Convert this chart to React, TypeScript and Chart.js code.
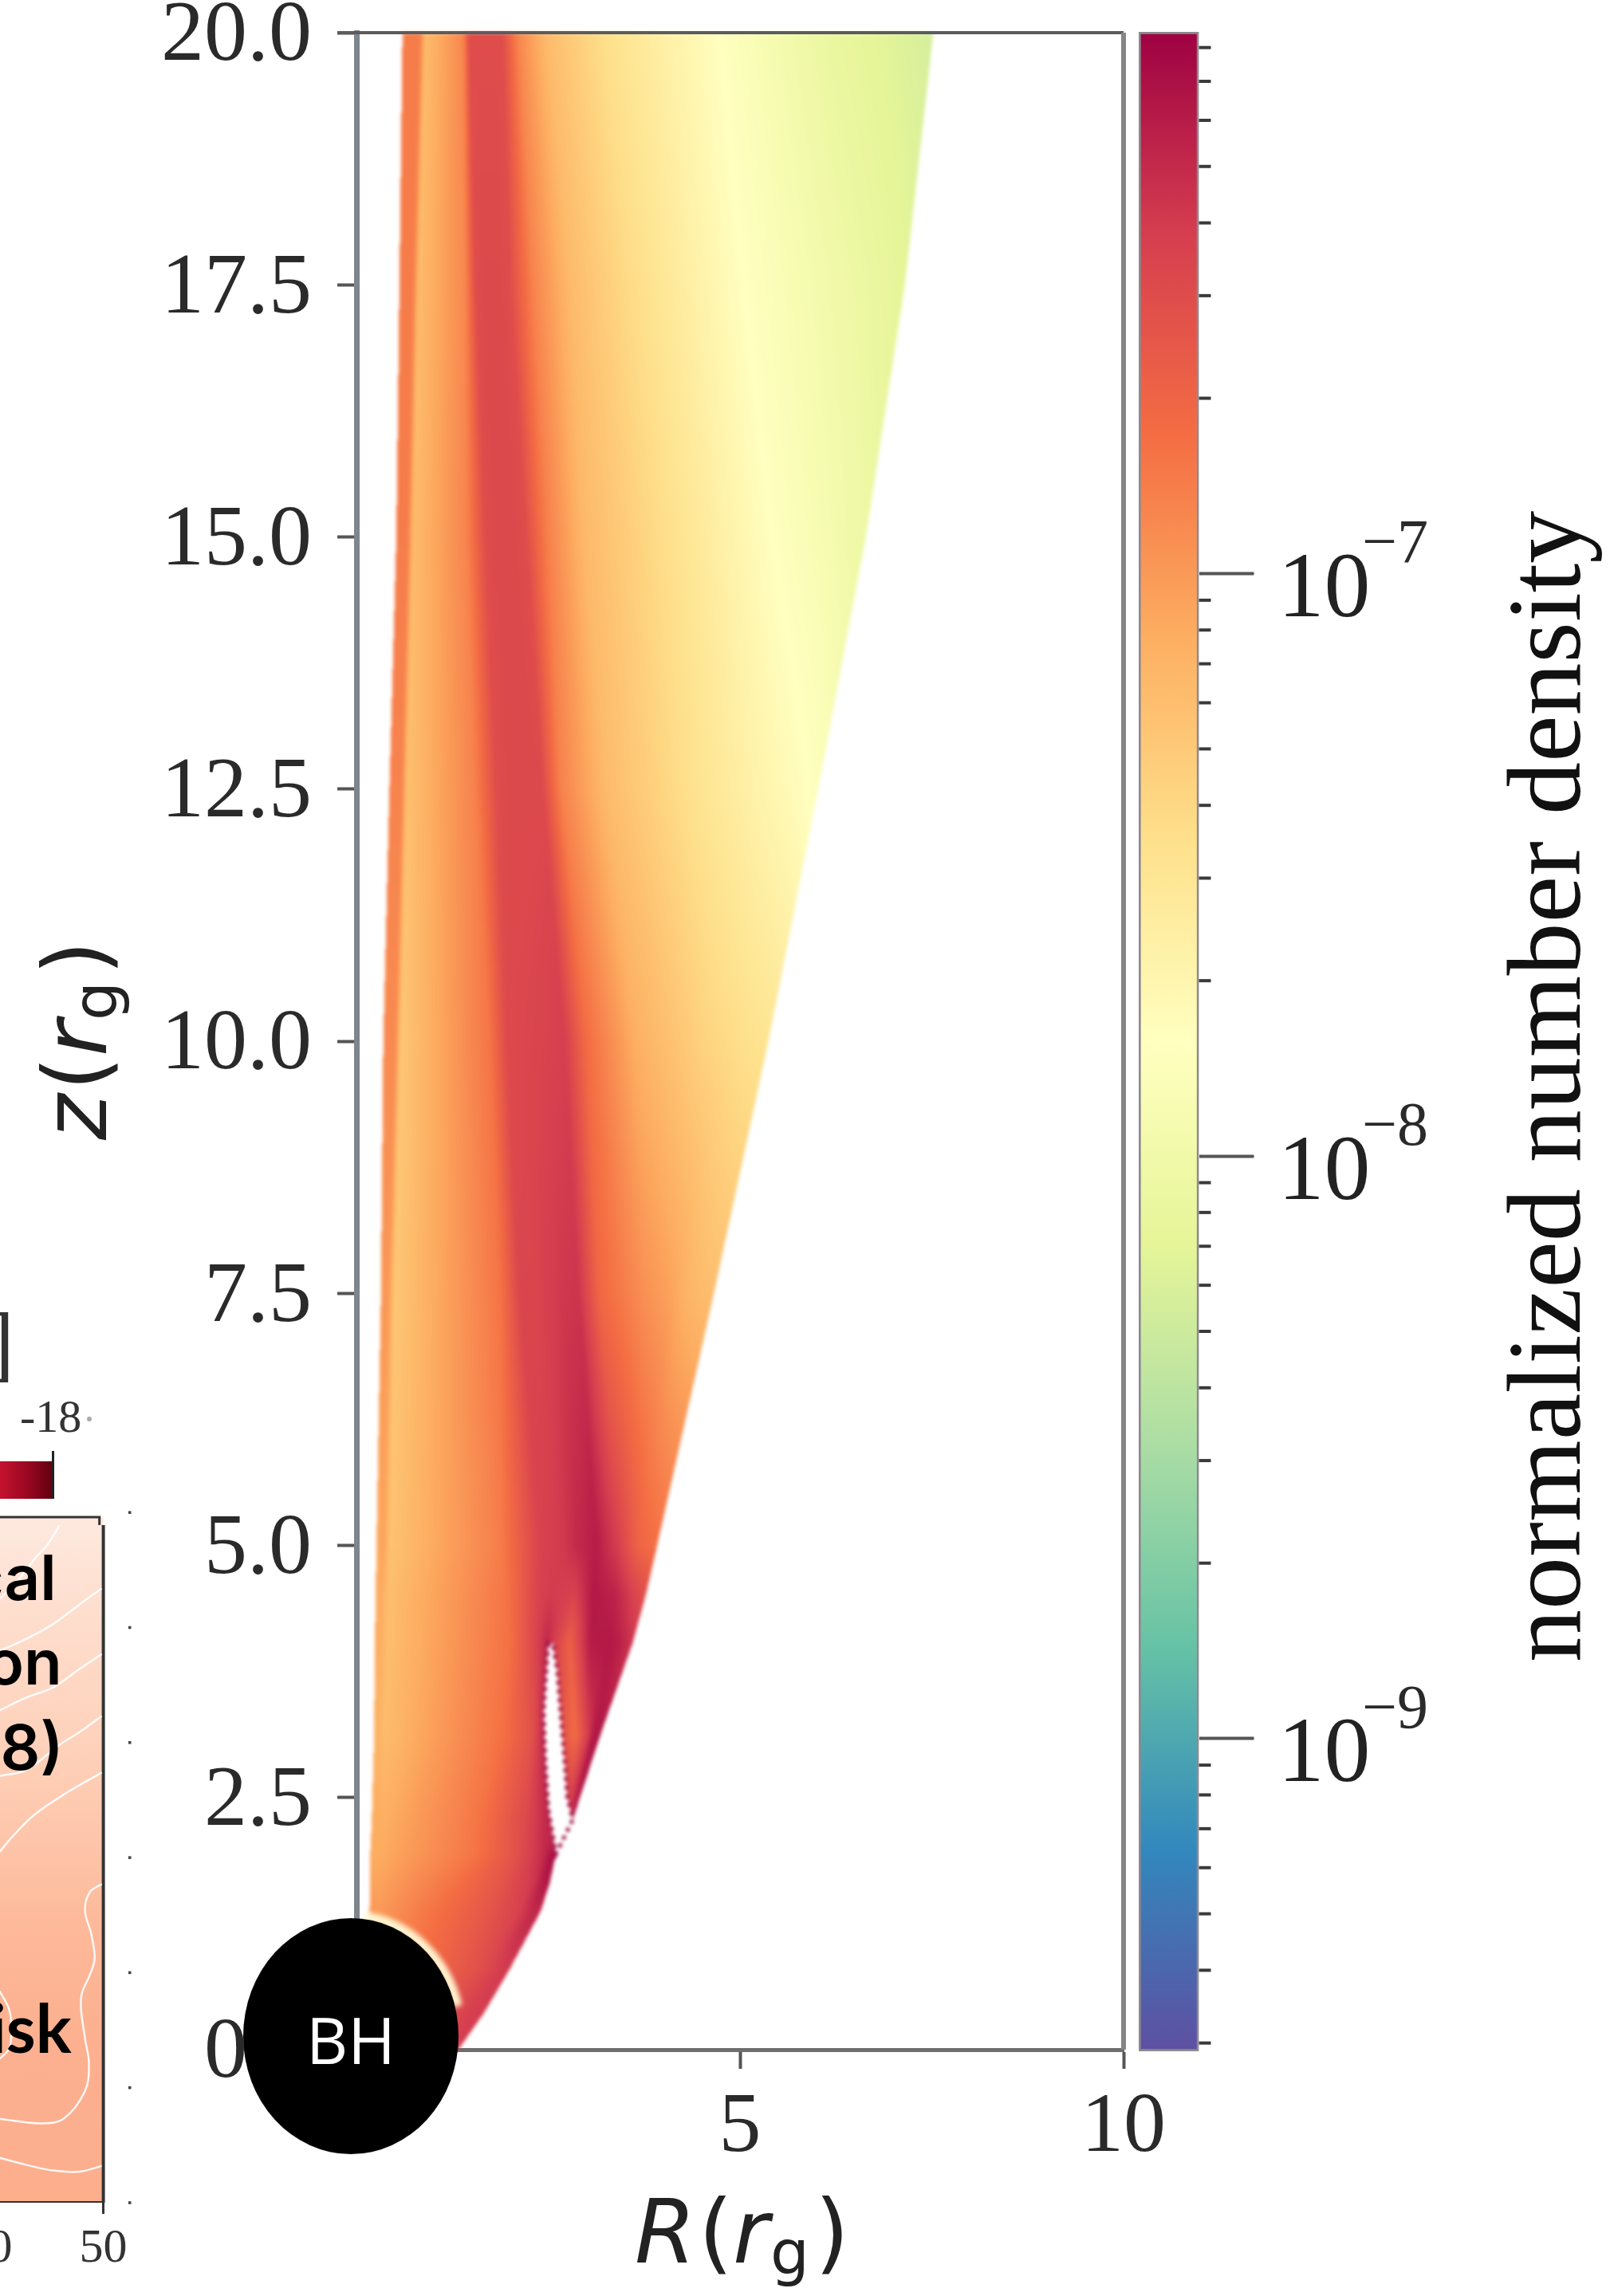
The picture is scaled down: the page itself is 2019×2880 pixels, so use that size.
import React, { useEffect, useRef } from "react";
import { Chart, registerables } from "chart.js";

Chart.register(...registerables);

// ---------- main density map: R (r_g) of each streamline knot at every height z (r_g)
const fieldZ = [20, 17.5, 15, 12.5, 10, 7.5, 5, 4.5, 4.03, 3.12, 2.28, 1.94, 1.65, 1.37, 0.8, 0.36, 0.1, 0];
const fieldR = [
  [0.6, 0.83, 0.9, 1.39, 1.47, 1.58, 1.69, 1.8, 1.9, 2.11, 2.48, 3.22, 4.81, 6.14, 7.52],
  [0.56, 0.74, 0.81, 1.42, 1.55, 1.66, 1.77, 1.88, 2.0, 2.3, 2.8, 3.55, 5.03, 6.35, 7.15],
  [0.52, 0.67, 0.74, 1.44, 1.68, 1.81, 1.94, 2.07, 2.21, 2.48, 2.96, 3.75, 5.4, 6.2, 6.64],
  [0.43, 0.59, 0.66, 1.55, 1.83, 1.98, 2.13, 2.28, 2.43, 2.66, 3.26, 4.47, 5.4, 5.8, 6.02],
  [0.35, 0.51, 0.58, 1.74, 1.96, 2.15, 2.33, 2.52, 2.71, 3.0, 3.64, 4.56, 5.0, 5.2, 5.37],
  [0.32, 0.42, 0.5, 1.87, 2.13, 2.33, 2.52, 2.7, 2.9, 3.17, 3.75, 4.1, 4.3, 4.5, 4.66],
  [0.26, 0.36, 0.44, 1.87, 2.39, 2.57, 2.72, 2.87, 3.13, 3.41, 3.6, 3.68, 3.75, 3.85, 3.92],
  [0.25, 0.33, 0.42, 1.95, 2.37, 2.53, 2.7, 2.85, 3.08, 3.36, 3.5, 3.58, 3.65, 3.72, 3.77],
  [0.24, 0.31, 0.4, 2.0, 2.35, 2.48, 2.6, 2.78, 3.05, 3.3, 3.38, 3.43, 3.48, 3.54, 3.6],
  [0.23, 0.29, 0.38, 1.9, 2.3, 2.46, 2.66, 2.85, 3.02, 3.07, 3.09, 3.11, 3.13, 3.16, 3.18],
  [0.2, 0.25, 0.36, 1.6, 2.2, 2.5, 2.7, 2.8, 2.81, 2.815, 2.815, 2.82, 2.82, 2.82, 2.82],
  [0.18, 0.22, 0.32, 1.55, 2.1, 2.45, 2.55, 2.6, 2.6, 2.6, 2.6, 2.6, 2.6, 2.6, 2.6],
  [0.18, 0.21, 0.3, 1.3, 1.9, 2.3, 2.42, 2.5, 2.51, 2.52, 2.52, 2.52, 2.52, 2.52, 2.52],
  [0.17, 0.2, 0.3, 1.1, 1.7, 2.1, 2.28, 2.36, 2.37, 2.38, 2.38, 2.39, 2.39, 2.4, 2.4],
  [0.3, 0.35, 0.5, 1.0, 1.4, 1.6, 1.8, 1.9, 1.92, 1.94, 1.95, 1.96, 1.97, 1.98, 2.0],
  [0.3, 0.38, 0.5, 0.85, 1.1, 1.25, 1.4, 1.55, 1.58, 1.6, 1.61, 1.62, 1.63, 1.64, 1.66],
  [0.3, 0.4, 0.5, 0.8, 1.0, 1.1, 1.2, 1.3, 1.33, 1.35, 1.36, 1.37, 1.38, 1.4, 1.42],
  [0.3, 0.4, 0.5, 0.8, 1.0, 1.1, 1.15, 1.2, 1.25, 1.27, 1.28, 1.29, 1.3, 1.31, 1.33],
];
// log10 of the normalized number density at the same knots
const fieldLogN = [
  [-6.85, -6.85, -7.2, -6.9, -6.52, -6.52, -6.52, -6.52, -6.52, -6.9, -7.2, -7.45, -7.82, -8.08, -8.25],
  [-6.85, -6.85, -7.2, -6.9, -6.52, -6.5, -6.5, -6.5, -6.52, -6.88, -7.2, -7.42, -7.8, -8.02, -8.15],
  [-6.85, -6.85, -7.2, -6.88, -6.52, -6.5, -6.5, -6.5, -6.52, -6.85, -7.18, -7.38, -7.8, -7.95, -8.05],
  [-6.88, -6.88, -7.23, -6.87, -6.52, -6.5, -6.5, -6.5, -6.5, -6.87, -7.2, -7.5, -7.7, -7.78, -7.85],
  [-6.92, -6.92, -7.28, -6.8, -6.5, -6.48, -6.47, -6.45, -6.42, -6.75, -7.12, -7.37, -7.45, -7.48, -7.5],
  [-6.98, -7.0, -7.28, -6.8, -6.47, -6.47, -6.42, -6.38, -6.36, -6.72, -6.95, -7.05, -7.15, -7.2, -7.22],
  [-7.1, -7.05, -7.25, -6.85, -6.45, -6.42, -6.38, -6.3, -6.22, -6.42, -6.62, -6.7, -6.72, -6.76, -6.78],
  [-7.1, -7.1, -7.22, -6.8, -6.45, -6.4, -6.42, -6.45, -6.2, -6.25, -6.35, -6.42, -6.48, -6.52, -6.55],
  [-7.1, -7.1, -7.22, -6.78, -6.45, -6.28, -6.45, -6.68, -6.22, -6.2, -6.22, -6.25, -6.28, -6.33, -6.38],
  [-7.15, -7.15, -7.2, -6.78, -6.55, -6.25, -6.55, -6.75, -6.42, -6.25, -6.2, -6.2, -6.2, -6.18, -6.18],
  [-7.1, -7.1, -7.12, -6.8, -6.5, -6.28, -6.45, -6.3, -6.2, -6.2, -6.2, -6.2, -6.2, -6.2, -6.2],
  [-7.1, -7.1, -7.1, -6.8, -6.55, -6.3, -6.15, -6.15, -6.15, -6.15, -6.15, -6.15, -6.15, -6.15, -6.15],
  [-7.05, -7.05, -7.05, -6.78, -6.58, -6.38, -6.22, -6.2, -6.2, -6.2, -6.2, -6.2, -6.2, -6.2, -6.2],
  [-7.0, -7.0, -7.0, -6.76, -6.6, -6.45, -6.3, -6.28, -6.28, -6.28, -6.28, -6.28, -6.28, -6.28, -6.28],
  [-6.9, -6.88, -6.85, -6.72, -6.6, -6.55, -6.45, -6.4, -6.4, -6.4, -6.4, -6.4, -6.4, -6.4, -6.4],
  [-6.7, -6.7, -6.7, -6.62, -6.55, -6.5, -6.45, -6.42, -6.42, -6.42, -6.42, -6.42, -6.42, -6.42, -6.42],
  [-6.6, -6.6, -6.6, -6.55, -6.5, -6.48, -6.45, -6.42, -6.42, -6.42, -6.42, -6.42, -6.42, -6.42, -6.42],
  [-6.6, -6.6, -6.6, -6.55, -6.5, -6.48, -6.45, -6.42, -6.42, -6.42, -6.42, -6.42, -6.42, -6.42, -6.42],
];
// the empty slit in the flow: [R, z]
const slitOutline = [
  [2.5, 4.03], [2.46, 3.6], [2.44, 3.35], [2.46, 2.9], [2.5, 2.39], [2.6, 1.94],
  [2.82, 2.28], [2.75, 2.5], [2.7, 3.0], [2.66, 3.35], [2.62, 3.75], [2.56, 4.03],
];
const bhCentre = { x: -0.073, y: 0.134 };
const xTicks = [0, 5, 10];
const zTicks = [0, 2.5, 5, 7.5, 10, 12.5, 15, 17.5, 20];

// ---------- colour bar
const spectral = ["#5e4fa2", "#3288bd", "#66c2a5", "#abdda4", "#e6f598", "#ffffbf", "#fee08b", "#fdae61", "#f46d43", "#d53e4f", "#9e0142"];
const cbarLogMin = -9.537;
const cbarLogMax = -6.07;
const cbarMajor = [1e-7, 1e-8, 1e-9];
const cbarExponents = ["−7", "−8", "−9"];
const cbarMinor = [
  8e-7, 7e-7, 6e-7, 5e-7, 4e-7, 3e-7, 2e-7,
  9e-8, 8e-8, 7e-8, 6e-8, 5e-8, 4e-8, 3e-8, 2e-8,
  9e-9, 8e-9, 7e-9, 6e-9, 5e-9, 4e-9, 3e-9, 2e-9,
  9e-10, 8e-10, 7e-10, 6e-10, 5e-10, 4e-10, 3e-10,
];

// ---------- cropped neighbouring panel
const insetXTicks = [40, 50];
const insetYDots = [0, 10, 20, 30, 40, 50, 60];
const insetShadeY = [59.6, 52, 38, 24, 14, 0];
const insetShade = ["#fee9df", "#fedfcf", "#fecfb7", "#fdb99a", "#fcb08f", "#fcae8d"];
const contour1 = [[46.18, 58.9], [45.14, 57.2], [43.96, 55.9], [42.4, 53.9], [41, 52.5]];
const contour2 = [[49.86, 53.4], [47.92, 52.0], [45.63, 50.3], [43.06, 48.9], [40.97, 48.0]];
const contour3 = [[49.86, 47.7], [47.92, 46.4], [45.63, 44.8], [43.26, 43.9], [40.97, 42.8]];
const contour4 = [[49.86, 42.3], [47.92, 40.9], [46.32, 39.9], [43.26, 37.6], [40.97, 37.1]];
const contour5 = [[49.86, 37.4], [46.74, 35.6], [43.96, 33.7], [42.15, 31.9], [40.97, 30.5]];
const contour6 = [
  [49.86, 27.7], [48.82, 27.0], [48.4, 25.4], [48.96, 23.3], [49.24, 21.2], [48.82, 19.8], [48.13, 18.2],
  [48.06, 16.8], [48.4, 14.3], [48.75, 12.0], [48.4, 9.7], [46.53, 7.3], [44.44, 6.9], [40.97, 7.3],
];
const contour7 = [[49.86, 3.2], [47.92, 2.7], [45.63, 2.8], [43.26, 3.3], [40.97, 3.9]];
const contour8 = [[40.97, 18.4], [41.8, 16.8], [42.0, 15.0], [41.8, 13.4], [40.97, 12.5]];
const insetContours = [contour1, contour2, contour3, contour4, contour5, contour6, contour7, contour8];
const insetWords = ["cal", "on", "18)", "isk"];

const PAGE_W = 2019;
const PAGE_H = 2880;
const hexRgb = (h: string) => [1, 3, 5].map((i) => parseInt(h.slice(i, i + 2), 16));
const noScalePadding = (s: any) => {
  s.paddingTop = 0;
  s.paddingBottom = 0;
  s.paddingLeft = 0;
  s.paddingRight = 0;
};

function buildLut(n: number) {
  const rgb = spectral.map(hexRgb);
  const lut = new Uint8ClampedArray(n * 3);
  for (let i = 0; i < n; i++) {
    const t = (i / (n - 1)) * (rgb.length - 1);
    const k = Math.min(Math.floor(t), rgb.length - 2);
    const f = t - k;
    for (let c = 0; c < 3; c++) lut[i * 3 + c] = rgb[k][c] + (rgb[k + 1][c] - rgb[k][c]) * f;
  }
  return lut;
}

const heatPlugin = {
  id: "heat",
  beforeDatasetsDraw(chart: any) {
    const { ctx, chartArea: a, scales } = chart;
    const W = Math.ceil(a.right - a.left);
    const H = Math.ceil(a.bottom - a.top);
    const off = document.createElement("canvas");
    off.width = W;
    off.height = H;
    const o = off.getContext("2d")!;
    const img = o.createImageData(W, H);
    const lut = buildLut(1024);
    const K = fieldR[0].length;
    const rs = new Array(K);
    const vs = new Array(K);
    for (let py = 0; py < H; py++) {
      const z = scales.y.getValueForPixel(a.top + py + 0.5);
      if (z > fieldZ[0] || z < 0) continue;
      let s = 0;
      while (s < fieldZ.length - 2 && z < fieldZ[s + 1]) s++;
      const f = (fieldZ[s] - z) / (fieldZ[s] - fieldZ[s + 1]);
      for (let j = 0; j < K; j++) {
        rs[j] = fieldR[s][j] + (fieldR[s + 1][j] - fieldR[s][j]) * f;
        vs[j] = fieldLogN[s][j] + (fieldLogN[s + 1][j] - fieldLogN[s][j]) * f;
      }
      let k = 0;
      for (let px = 0; px < W; px++) {
        const R = scales.x.getValueForPixel(a.left + px + 0.5);
        if (R < rs[0] || R > rs[K - 1]) continue;
        while (k < K - 2 && R > rs[k + 1]) k++;
        const d = rs[k + 1] - rs[k];
        const g = d > 0 ? (R - rs[k]) / d : 0;
        const v = vs[k] + (vs[k + 1] - vs[k]) * g;
        const t = Math.max(0, Math.min(1, (v - cbarLogMin) / (cbarLogMax - cbarLogMin)));
        const idx = Math.round(t * 1023) * 3;
        const p = (py * W + px) * 4;
        img.data[p] = lut[idx];
        img.data[p + 1] = lut[idx + 1];
        img.data[p + 2] = lut[idx + 2];
        img.data[p + 3] = 255;
      }
    }
    o.putImageData(img, 0, 0);
    const slit = new Path2D();
    slitOutline.forEach(([R, z], i) => {
      const x = scales.x.getPixelForValue(R) - a.left;
      const y = scales.y.getPixelForValue(z) - a.top;
      if (i === 0) slit.moveTo(x, y);
      else slit.lineTo(x, y);
    });
    slit.closePath();
    o.globalCompositeOperation = "destination-out";
    o.fill(slit);
    o.globalCompositeOperation = "source-over";
    o.strokeStyle = "#a3174a";
    o.lineWidth = 5;
    o.setLineDash([5, 6]);
    o.stroke(slit);

    ctx.save();
    ctx.filter = "blur(2px)";
    ctx.drawImage(off, a.left, a.top);
    ctx.filter = "none";
    // top and right frame lines
    ctx.lineCap = "butt";
    ctx.strokeStyle = "#5c5c5c";
    ctx.lineWidth = 4;
    ctx.beginPath();
    ctx.moveTo(a.left - 24, a.top);
    ctx.lineTo(a.right, a.top);
    ctx.stroke();
    ctx.strokeStyle = "#868686";
    ctx.lineWidth = 6;
    ctx.beginPath();
    ctx.moveTo(a.right, a.top);
    ctx.lineTo(a.right, a.bottom);
    ctx.stroke();
    ctx.restore();
  },
  afterDatasetsDraw(chart: any) {
    const { ctx, scales } = chart;
    const cx = scales.x.getPixelForValue(bhCentre.x);
    const cy = scales.y.getPixelForValue(bhCentre.y);
    ctx.save();
    ctx.fillStyle = "#fff";
    ctx.font = '400 81px "Open Sans"';
    ctx.textAlign = "center";
    ctx.textBaseline = "alphabetic";
    ctx.fillText("BH", cx, cy + 35);

    // axis titles
    const ink = "#222";
    ctx.fillStyle = ink;
    ctx.textAlign = "left";
    const ital = 'italic 110px "DejaVu Sans"';
    const rom = '110px "DejaVu Sans"';
    const sub = '77px "DejaVu Sans"';
    const put = (t: string, f: string, x: number, y: number) => {
      ctx.font = f;
      ctx.fillText(t, x, y);
    };
    put("R", ital, 796, 2838);
    put("(", rom, 876, 2838);
    put("r", ital, 919, 2838);
    put("g", sub, 966, 2852);
    put(")", rom, 1022, 2838);
    ctx.translate(133, 1430);
    ctx.rotate(-Math.PI / 2);
    put("z", ital, 0, 0);
    put("(", rom, 62, 0);
    put("r", ital, 105, 0);
    put("g", sub, 150, 13);
    put(")", rom, 207, 0);
    ctx.restore();
  },
};

const cbarPlugin = {
  id: "cbarExtras",
  afterDraw(chart: any) {
    const { ctx, chartArea: a, scales } = chart;
    const y = scales.y;
    ctx.save();
    ctx.strokeStyle = "#3a3a3a";
    ctx.lineWidth = 4;
    cbarMinor.forEach((v) => {
      const p = y.getPixelForValue(v);
      ctx.beginPath();
      ctx.moveTo(a.right, p);
      ctx.lineTo(a.right + 15, p);
      ctx.stroke();
    });
    ctx.fillStyle = "#2a2a2a";
    ctx.font = '78px "Liberation Serif"';
    ctx.textAlign = "left";
    ctx.textBaseline = "alphabetic";
    cbarMajor.forEach((v, i) => {
      ctx.fillText(cbarExponents[i], 1708, y.getPixelForValue(v) - 14);
    });
    ctx.fillStyle = "#111";
    ctx.font = '132px "Liberation Serif"';
    ctx.translate(1981, 2085);
    ctx.rotate(-Math.PI / 2);
    ctx.fillText("normalized number density", 0, 0);
    ctx.restore();
  },
};

const insetPlugin = {
  id: "insetExtras",
  beforeDatasetsDraw(chart: any) {
    const { ctx, scales } = chart;
    const x0 = scales.x.getPixelForValue(26);
    const x1 = scales.x.getPixelForValue(50);
    const top = scales.y.getPixelForValue(insetShadeY[0]);
    const bot = scales.y.getPixelForValue(0);
    const g = ctx.createLinearGradient(0, top, 0, bot);
    insetShadeY.forEach((v, i) => g.addColorStop((insetShadeY[0] - v) / insetShadeY[0], insetShade[i]));
    ctx.fillStyle = g;
    ctx.fillRect(x0, top, x1 - x0, bot - top);
  },
  afterDatasetsDraw(chart: any) {
    const { ctx, scales } = chart;
    const right = scales.x.getPixelForValue(50);
    const pageX = (v: number) => v + 216;
    const pageY = (v: number) => v - 1600;
    ctx.save();
    ctx.fillStyle = "#000";
    ctx.textAlign = "right";
    ctx.textBaseline = "alphabetic";
    ctx.font = '600 78px "Inter"';
    ctx.fillText(insetWords[0], right - 59, pageY(2007));
    ctx.fillText(insetWords[1], right - 52, pageY(2113));
    ctx.fillText(insetWords[2], right - 50, pageY(2220));
    ctx.font = '700 84px "Lato"';
    ctx.fillText(insetWords[3], right - 40, pageY(2575));
    // the end of the neighbour's colour strip and its label
    const sg = ctx.createLinearGradient(pageX(0), 0, pageX(67), 0);
    sg.addColorStop(0, "#c4122f");
    sg.addColorStop(0.55, "#96071f");
    sg.addColorStop(1, "#5f000e");
    ctx.fillStyle = sg;
    ctx.fillRect(pageX(-20), pageY(1833), 87, 47);
    ctx.fillStyle = "#222";
    ctx.fillRect(pageX(65), pageY(1820), 3, 60);
    ctx.font = '58px "Liberation Serif"';
    ctx.fillStyle = "#333";
    ctx.textAlign = "left";
    ctx.fillText("-18", pageX(25), pageY(1796));
    ctx.fillStyle = "#aaa";
    ctx.beginPath();
    ctx.arc(pageX(112), pageY(1780), 3, 0, Math.PI * 2);
    ctx.fill();
    ctx.font = '106px "Liberation Serif"';
    ctx.fillStyle = "#333";
    ctx.textAlign = "right";
    ctx.fillText("]", pageX(18), pageY(1720));
    ctx.restore();
  },
};

function makeBlackHole() {
  const rx = 135;
  const ry = 148;
  const m = 20;
  const c = document.createElement("canvas");
  c.width = 2 * (rx + m);
  c.height = 2 * (ry + m);
  const o = c.getContext("2d")!;
  const cx = c.width / 2;
  const cy = c.height / 2;
  o.filter = "blur(3px)";
  o.strokeStyle = "#fff6d2";
  o.lineWidth = 12;
  o.beginPath();
  o.ellipse(cx, cy, rx + 3, ry + 3, 0, -Math.PI * 0.46, -Math.PI * 0.08);
  o.stroke();
  o.filter = "none";
  o.fillStyle = "#000";
  o.beginPath();
  o.ellipse(cx, cy, rx, ry, 0, 0, Math.PI * 2);
  o.fill();
  return c;
}

const serif = (size: number) => ({ family: '"Liberation Serif"', size });
const absolute = (left: number, top: number): React.CSSProperties => ({ position: "absolute", left, top, display: "block" });

export default function App() {
  const mainRef = useRef<HTMLCanvasElement>(null);
  const cbarRef = useRef<HTMLCanvasElement>(null);
  const insetRef = useRef<HTMLCanvasElement>(null);

  useEffect(() => {
    const main = new Chart(mainRef.current!, {
      type: "scatter",
      data: {
        datasets: [
          {
            label: "BH",
            data: [bhCentre],
            pointStyle: makeBlackHole() as any,
            pointRadius: 30,
            clip: false as any,
          },
        ],
      },
      options: {
        responsive: false,
        animation: false,
        events: [],
        layout: { autoPadding: false, padding: { top: 41, right: PAGE_W - 1409, left: 0, bottom: 0 } },
        plugins: { legend: { display: false }, tooltip: { enabled: false } },
        scales: {
          x: {
            type: "linear",
            min: 0,
            max: 10,
            afterFit: (s: any) => { s.height = PAGE_H - 2571; noScalePadding(s); },
            afterBuildTicks: (s: any) => { s.ticks = xTicks.map((value) => ({ value })); },
            grid: { drawOnChartArea: false, tickLength: 24, tickWidth: 4, tickColor: "#555" },
            border: { color: "#6e6e6e", width: 5 },
            ticks: { font: serif(106), color: "#2a2a2a", padding: 12, maxRotation: 0, autoSkip: false, callback: (v: any) => String(v) },
          },
          y: {
            type: "linear",
            min: 0,
            max: 20,
            afterFit: (s: any) => { s.width = 447; noScalePadding(s); },
            afterBuildTicks: (s: any) => { s.ticks = zTicks.map((value) => ({ value })); },
            grid: { drawOnChartArea: false, tickLength: 24, tickWidth: 4, tickColor: "#555" },
            border: { color: "#7f858c", width: 7 },
            ticks: { font: serif(108), color: "#2a2a2a", padding: 32, labelOffset: 6, autoSkip: false, callback: (v: any) => Number(v).toFixed(1) },
          },
        },
      },
      plugins: [heatPlugin],
    } as any);

    const cbar = new Chart(cbarRef.current!, {
      type: "bar",
      data: {
        labels: ["density"],
        datasets: [
          {
            label: "normalized number density",
            data: [[Math.pow(10, cbarLogMin), Math.pow(10, cbarLogMax)]],
            categoryPercentage: 1,
            barPercentage: 1,
            borderWidth: 3,
            borderSkipped: false,
            borderColor: "rgba(50,40,50,0.55)",
            backgroundColor: (ctx: any) => {
              const a = ctx.chart.chartArea;
              if (!a) return "#000";
              const g = ctx.chart.ctx.createLinearGradient(0, a.bottom, 0, a.top);
              spectral.forEach((c, i) => g.addColorStop(i / (spectral.length - 1), c));
              return g;
            },
          },
        ],
      },
      options: {
        responsive: false,
        animation: false,
        events: [],
        layout: { autoPadding: false, padding: { top: 40, left: 1428, right: 0, bottom: PAGE_H - 2573 } },
        plugins: { legend: { display: false }, tooltip: { enabled: false } },
        scales: {
          x: { display: false },
          y: {
            type: "logarithmic",
            position: "right",
            min: Math.pow(10, cbarLogMin),
            max: Math.pow(10, cbarLogMax),
            afterFit: (s: any) => { s.width = PAGE_W - 1503.5; noScalePadding(s); },
            afterBuildTicks: (s: any) => { s.ticks = cbarMajor.map((value) => ({ value })); },
            grid: { drawOnChartArea: false, tickLength: 69, tickWidth: 4, tickColor: "#555" },
            border: { display: false },
            ticks: { font: serif(116), color: "#222", padding: 30, labelOffset: 23, autoSkip: false, callback: () => "10" },
          },
        },
      },
      plugins: [cbarPlugin],
    } as any);

    const inset = new Chart(insetRef.current!, {
      type: "scatter",
      data: {
        datasets: [
          ...insetContours.map((c, i) => ({
            label: `contour ${i + 1}`,
            data: c.map(([x, y]) => ({ x, y })),
            showLine: true,
            borderColor: "rgba(255,255,255,0.9)",
            borderWidth: 2.5,
            pointRadius: 0,
            tension: 0.35,
          })),
          {
            label: "right frame",
            data: [{ x: 50, y: 0 }, { x: 50, y: 58.9 }],
            showLine: true,
            borderColor: "#333",
            borderWidth: 4,
            pointRadius: 0,
          },
          {
            label: "bottom frame",
            data: [{ x: 26, y: 0 }, { x: 50, y: 0 }],
            showLine: true,
            borderColor: "#333",
            borderWidth: 4,
            pointRadius: 0,
          },
          {
            label: "top frame",
            data: [{ x: 26, y: 59.6 }, { x: 49.66, y: 59.6 }, { x: 49.66, y: 58.9 }],
            showLine: true,
            borderColor: "#333",
            borderWidth: 3,
            pointRadius: 0,
          },
          {
            label: "ticks",
            data: insetYDots.map((y) => ({ x: 52.3, y })),
            pointStyle: "rect",
            pointRadius: 2.5,
            backgroundColor: "#444",
            borderWidth: 0,
            clip: false as any,
          },
        ],
      },
      options: {
        responsive: false,
        animation: false,
        events: [],
        layout: { autoPadding: false, padding: { top: 2763 - 60 * 14.43 - 1600, left: 0, right: 24, bottom: 0 } },
        plugins: { legend: { display: false }, tooltip: { enabled: false } },
        scales: {
          x: {
            type: "linear",
            min: 26,
            max: 53.5,
            afterFit: (s: any) => { s.height = PAGE_H - 2763; noScalePadding(s); },
            afterBuildTicks: (s: any) => { s.ticks = insetXTicks.map((value) => ({ value })); },
            grid: { drawOnChartArea: false, tickLength: 14, tickWidth: 3, tickColor: "#333" },
            border: { display: false },
            ticks: { font: serif(60), color: "#333", padding: 8, maxRotation: 0, autoSkip: false, callback: (v: any) => String(v) },
          },
          y: {
            type: "linear",
            min: 0,
            max: 60,
            display: false,
          },
        },
      },
      plugins: [insetPlugin],
    } as any);

    return () => {
      main.destroy();
      cbar.destroy();
      inset.destroy();
    };
  }, []);

  return (
    <div style={{ position: "absolute", left: 0, top: 0, width: PAGE_W, height: PAGE_H, overflow: "hidden", background: "#fff" }}>
      <canvas ref={insetRef} width={420} height={1280} style={absolute(-216, 1600)} />
      <canvas ref={mainRef} width={PAGE_W} height={PAGE_H} style={absolute(0, 0)} />
      <canvas ref={cbarRef} width={PAGE_W} height={PAGE_H} style={absolute(0, 0)} />
    </div>
  );
}
